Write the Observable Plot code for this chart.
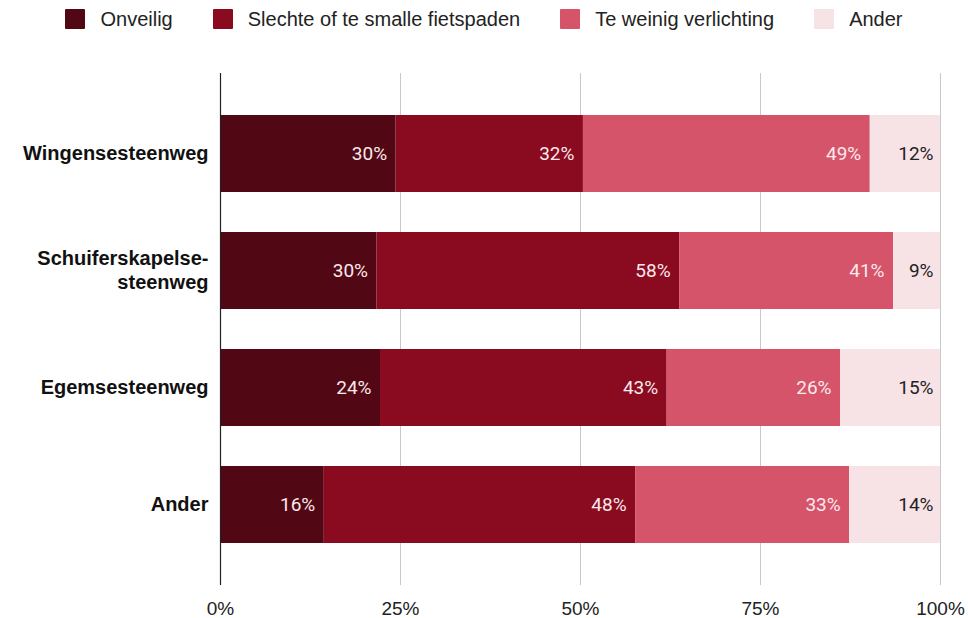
<!DOCTYPE html>
<html>
<head>
<meta charset="utf-8">
<script src="https://cdn.jsdelivr.net/npm/d3@7"></script>
<script src="https://cdn.jsdelivr.net/npm/@observablehq/plot@0.6"></script>
<style>
  html, body { margin: 0; padding: 0; background: #fff; }
  #legend { height: 38px; display: flex; justify-content: center; align-items: center;
    font-family: "Liberation Sans", Arial, sans-serif; font-size: 20px; color: #222; }
  .item { display: flex; align-items: center; margin: 0 20px; }
  .sw { width: 20px; height: 20px; margin-right: 15px; border-radius: 1px; }
</style>
</head>
<body>
<div id="legend"></div>
<div id="chart"></div>
<script>
const roads = ["Wingensesteenweg", "Schuiferskapelse-steenweg", "Egemsesteenweg", "Ander"];
const categories = ["Onveilig", "Slechte of te smalle fietspaden", "Te weinig verlichting", "Ander"];
const colors = ["#520714", "#8a0a1f", "#d5546a", "#f7e3e6"];
const onveilig = [30, 30, 24, 16];
const slechte = [32, 58, 43, 48];
const verlichting = [49, 41, 26, 33];
const ander = [12, 9, 15, 14];
const xTicks = [0, 0.25, 0.5, 0.75, 1];
const roadLabels = {"Wingensesteenweg": "Wingensesteenweg", "Schuiferskapelse-steenweg": "Schuiferskapelse-\nsteenweg", "Egemsesteenweg": "Egemsesteenweg", "Ander": "Ander"};

const series = [onveilig, slechte, verlichting, ander];
const data = [];
roads.forEach((r, i) => {
  categories.forEach((c, j) => {
    data.push({road: r, cat: c, value: series[j][i]});
  });
});

// legend
const leg = document.getElementById("legend");
categories.forEach((c, j) => {
  const it = document.createElement("div");
  it.className = "item";
  it.innerHTML = `<div class="sw" style="background:${colors[j]}"></div><span>${c}</span>`;
  leg.appendChild(it);
});

const chart = Plot.plot({
  width: 968,
  height: 580,
  marginLeft: 220,
  marginRight: 28,
  marginTop: 35,
  marginBottom: 33,
  style: {fontFamily: "Liberation Sans, Arial, sans-serif", background: "#fff"},
  x: {domain: [0, 1], ticks: xTicks},
  y: {domain: roads, padding: 0.34},
  color: {domain: categories, range: colors},
  marks: [
    Plot.gridX(xTicks, {stroke: "#c8c8c8", strokeOpacity: 1, strokeWidth: 1}),
    Plot.barX(data, Plot.stackX({x: "value", y: "road", fill: "cat", offset: "normalize"})),
    Plot.text(data, Plot.stackX2({x: "value", y: "road", offset: "normalize",
      text: d => d.cat === "Ander" ? "" : d.value + "%", fill: "#fbe9ec", textAnchor: "end", dx: -9,
      fontSize: 19, fontFamily: "Roboto, sans-serif"})),
    Plot.text(data, Plot.stackX2({x: "value", y: "road", offset: "normalize",
      text: d => d.cat === "Ander" ? d.value + "%" : "", fill: "#222", textAnchor: "end", dx: -7,
      fontSize: 19, fontFamily: "Roboto, sans-serif"})),
    Plot.ruleX([0], {stroke: "#222", strokeWidth: 1.2}),
    Plot.axisX({ticks: xTicks, tickFormat: d => Math.round(d * 100) + "%", tickSize: 0, tickPadding: 16,
      fontSize: 19, label: null, fill: "#222"}),
    Plot.axisY({tickSize: 0, tickPadding: 12, tickFormat: d => roadLabels[d], fontSize: 20,
      fontWeight: "bold", lineHeight: 1.2, dy: -2, label: null, fill: "#111"})
  ]
});
document.getElementById("chart").appendChild(chart);
</script>
</body>
</html>
